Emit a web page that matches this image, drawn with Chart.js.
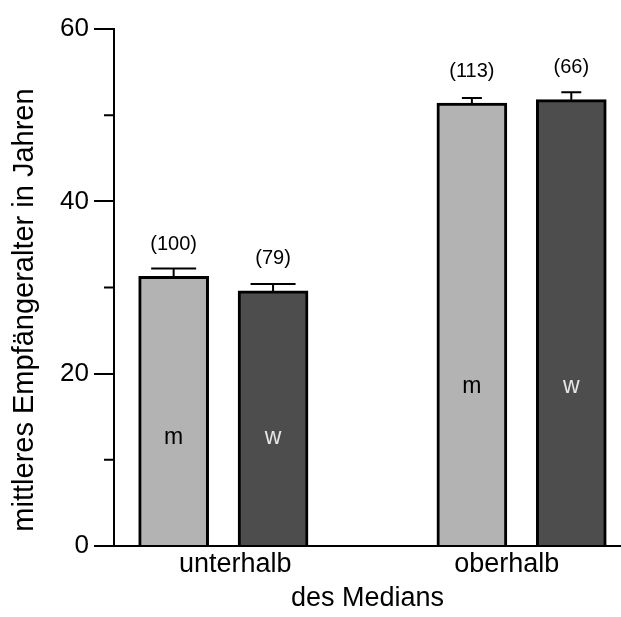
<!DOCTYPE html>
<html>
<head>
<meta charset="utf-8">
<script src="https://cdn.jsdelivr.net/npm/chart.js@4"></script>
<style>
  html, body { margin: 0; padding: 0; background: #fff; }
  #wrap { width: 621px; height: 617px; }
</style>
</head>
<body>
<div id="wrap"><canvas id="chartAge"></canvas></div>
<script>
"use strict";

// groups below / above the median, bars per sex
const groups = ['unterhalb', 'oberhalb'];
const meanM = [31.3, 51.4];
const meanW = [29.6, 51.8];
const errM = [0.9, 0.6];
const errW = [0.8, 0.85];
const countM = [100, 113];
const countW = [79, 66];
const posM = [1, 4];
const posW = [2, 5];
const groupTickPos = [1.62, 4.35];
const yTitle = 'mittleres Empfängeralter in Jahren';

const fontFamily = '"Liberation Sans", Arial, sans-serif';
Chart.defaults.font.family = fontFamily;
Chart.defaults.color = '#000';

//--------------------------------error bars, counts, letters---------------------------------
const barExtras = {
    id: 'barExtras',
    afterDatasetsDraw(chart, args, opts) {
        const c = chart.ctx;
        const y = chart.scales.y;
        chart.data.datasets.forEach((ds, di) => {
            const meta = chart.getDatasetMeta(di);
            meta.data.forEach((bar, i) => {
                const top = y.getPixelForValue(ds.data[i].y + ds.err[i]);
                const half = opts.capWidth[i] / 2;
                c.save();
                c.strokeStyle = '#000';
                c.lineWidth = 2;
                c.beginPath();
                c.moveTo(bar.x, bar.y);
                c.lineTo(bar.x, top);
                c.moveTo(bar.x - half, top);
                c.lineTo(bar.x + half, top);
                c.stroke();

                c.textAlign = 'center';
                c.textBaseline = 'middle';
                c.font = '20px ' + fontFamily;
                c.fillStyle = '#000';
                c.fillText('(' + ds.n[i] + ')', bar.x, bar.y - 32);

                c.font = '23px ' + fontFamily;
                c.fillStyle = ds.textColor;
                c.fillText(ds.label, bar.x, y.getPixelForValue(opts.letterLevel[i]));
                c.restore();
            });
        });

        // short minor ticks on the y axis
        c.save();
        c.strokeStyle = '#000';
        c.lineWidth = 2;
        c.beginPath();
        y.ticks.forEach(t => {
            if (t.value % 20 !== 0) {
                const py = y.getPixelForValue(t.value);
                c.moveTo(chart.chartArea.left - 10, py);
                c.lineTo(chart.chartArea.left, py);
            }
        });
        c.stroke();

        // y axis title, a bit below the middle of the axis
        c.translate(opts.titleX, opts.titleY);
        c.rotate(-Math.PI / 2);
        c.font = '29px ' + fontFamily;
        c.textAlign = 'center';
        c.textBaseline = 'middle';
        c.fillStyle = '#000';
        c.fillText(yTitle, 0, 0);
        c.restore();
    }
};

const age = document.getElementById('chartAge').getContext('2d');
var chartAge = new Chart(age, {
    type: 'bar',
    data: {
        datasets: [{
            label: 'm',
            data: posM.map((x, i) => ({ x: x, y: meanM[i] })),
            err: errM,
            n: countM,
            backgroundColor: '#b3b3b3',
            borderColor: '#000',
            borderWidth: 3,
            textColor: '#000'
        }, {
            label: 'w',
            data: posW.map((x, i) => ({ x: x, y: meanW[i] })),
            err: errW,
            n: countW,
            backgroundColor: '#4d4d4d',
            borderColor: '#000',
            borderWidth: 3,
            textColor: '#e6e6e6'
        }]
    },
    options: {
        responsive: true,
        maintainAspectRatio: false,
        animation: false,
        layout: { padding: { top: 29, right: 0, bottom: 0, left: 7 } },
        datasets: { bar: { grouped: false, barThickness: 70 } },
        plugins: {
            legend: { display: false },
            tooltip: { enabled: false },
            barExtras: { capWidth: [45, 20], letterLevel: [12.6, 18.5], titleX: 25, titleY: 310 }
        },
        scales: {
            x: {
                type: 'linear',
                min: 0.4,
                max: 5.5,
                offset: false,
                grid: { display: false, drawTicks: false },
                border: { display: true, color: '#000', width: 2 },
                afterBuildTicks: s => { s.ticks = groupTickPos.map(v => ({ value: v })); },
                afterFit: s => { s.height = 71; },
                ticks: {
                    callback: (v, i) => groups[i],
                    font: { size: 27 },
                    padding: 2,
                    autoSkip: false,
                    maxRotation: 0
                },
                title: { display: true, text: 'des Medians', font: { size: 27 }, padding: { top: 0, bottom: 2 } }
            },
            y: {
                min: 0,
                max: 60,
                afterFit: s => { s.width = 107; },
                ticks: {
                    stepSize: 10,
                    callback: v => (v % 20 === 0 ? v : ''),
                    font: { size: 26 },
                    padding: 5
                },
                grid: {
                    drawOnChartArea: false,
                    tickLength: 20,
                    lineWidth: 2,
                    tickColor: c => (c.tick && c.tick.value % 20 !== 0 ? 'rgba(0,0,0,0)' : '#000')
                },
                border: { color: '#000', width: 2 }
            }
        }
    },
    plugins: [barExtras]
});
</script>
</body>
</html>
